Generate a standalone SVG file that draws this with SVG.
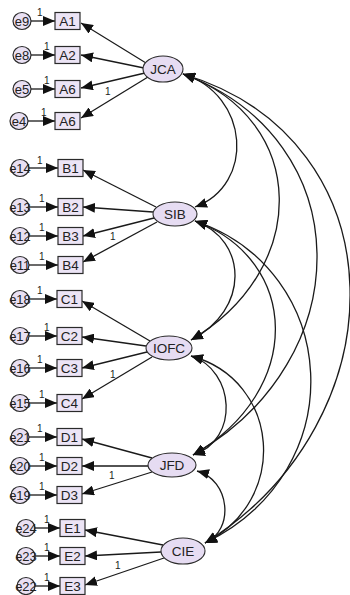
<svg xmlns="http://www.w3.org/2000/svg" width="350" height="595" viewBox="0 0 350 595">
  <style>
    .bg { fill: #ffffff; }
    .obs { fill: #ece4f5; stroke: #2a2a2a; stroke-width: 1.2; }
    .lat { fill: #e6dcf2; stroke: #2a2a2a; stroke-width: 1.1; }
    .err { fill: #e9e0f3; stroke: #2a2a2a; stroke-width: 1.2; }
    .lbl { font-family: "Liberation Sans", Arial, sans-serif; font-size: 13.5px; fill: #222; text-anchor: middle; dominant-baseline: central; }
    .elbl { font-family: "Liberation Sans", Arial, sans-serif; font-size: 13px; fill: #222; text-anchor: middle; dominant-baseline: central; }
    .one { font-family: "Liberation Sans", Arial, sans-serif; font-size: 10px; fill: #222; }
    .path { fill: none; stroke: #1a1a1a; stroke-width: 1.3; marker-end: url(#head); }
    .cov { fill: none; stroke: #1a1a1a; stroke-width: 1.3; marker-start: url(#head); marker-end: url(#head); }
  </style>
  <defs>
    <marker id="head" markerUnits="userSpaceOnUse" markerWidth="12" markerHeight="10" refX="12" refY="5" orient="auto-start-reverse">
      <path d="M0,0 L12,5 L0,10 z" fill="#111"/>
    </marker>
  </defs>
  <rect class="bg" x="0" y="0" width="350" height="595"/>

  <g id="connectors">
    <!-- error terms to indicators -->
    <line class="path" x1="31" y1="21" x2="55" y2="21"/>
    <line class="path" x1="31" y1="55" x2="55" y2="55"/>
    <line class="path" x1="31" y1="89" x2="55" y2="89"/>
    <line class="path" x1="28" y1="121" x2="55" y2="121"/>
    <line class="path" x1="29" y1="168" x2="58" y2="168"/>
    <line class="path" x1="29" y1="207" x2="58" y2="207"/>
    <line class="path" x1="29" y1="236" x2="58" y2="236"/>
    <line class="path" x1="29" y1="265" x2="58" y2="265"/>
    <line class="path" x1="29" y1="299" x2="57" y2="299"/>
    <line class="path" x1="29" y1="336" x2="57" y2="336"/>
    <line class="path" x1="29" y1="368" x2="57" y2="368"/>
    <line class="path" x1="29" y1="403" x2="57" y2="403"/>
    <line class="path" x1="29" y1="437" x2="57" y2="437"/>
    <line class="path" x1="29" y1="466" x2="57" y2="466"/>
    <line class="path" x1="29" y1="495" x2="57" y2="495"/>
    <line class="path" x1="35" y1="528" x2="60" y2="528"/>
    <line class="path" x1="35" y1="556" x2="60" y2="556"/>
    <line class="path" x1="35" y1="586" x2="60" y2="586"/>

    <!-- factor loadings -->
    <line class="path" x1="146" y1="63" x2="81" y2="23"/>
    <line class="path" x1="144" y1="68" x2="81" y2="55"/>
    <line class="path" x1="145" y1="73" x2="81" y2="88"/>
    <line class="path" x1="148" y1="77" x2="81" y2="118"/>

    <line class="path" x1="156" y1="207" x2="83" y2="170"/>
    <line class="path" x1="153" y1="212" x2="83" y2="207"/>
    <line class="path" x1="154" y1="218" x2="83" y2="236"/>
    <line class="path" x1="157" y1="222" x2="83" y2="262"/>

    <line class="path" x1="150" y1="341" x2="82" y2="301"/>
    <line class="path" x1="146" y1="346" x2="82" y2="337"/>
    <line class="path" x1="147" y1="352" x2="82" y2="368"/>
    <line class="path" x1="152" y1="357" x2="82" y2="399"/>

    <line class="path" x1="152" y1="458" x2="82" y2="439"/>
    <line class="path" x1="148" y1="466" x2="82" y2="466"/>
    <line class="path" x1="152" y1="472" x2="82" y2="494"/>

    <line class="path" x1="163" y1="545" x2="85" y2="530"/>
    <line class="path" x1="161" y1="552" x2="85" y2="556"/>
    <line class="path" x1="164" y1="558" x2="85" y2="585"/>

    <!-- factor covariances -->
    <path class="cov" d="M183,74 C250,95 255,185 195,207"/>
    <path class="cov" d="M183,74 C310,120 310,270 191,340"/>
    <path class="cov" d="M183,74 C360,140 360,360 193,455"/>
    <path class="cov" d="M183,74 C402,140 402,420 205,543"/>
    <path class="cov" d="M195,221 C248,240 250,310 191,340"/>
    <path class="cov" d="M195,221 C300,260 305,390 193,455"/>
    <path class="cov" d="M195,221 C340,270 355,470 205,543"/>
    <path class="cov" d="M191,356 C235,370 240,440 193,455"/>
    <path class="cov" d="M191,356 C280,380 290,500 205,543"/>
    <path class="cov" d="M197,471 C230,480 235,530 205,543"/>

    <!-- fixed parameter labels -->
    <text class="one" x="37" y="16">1</text>
    <text class="one" x="44" y="50">1</text>
    <text class="one" x="44" y="84">1</text>
    <text class="one" x="41" y="116">1</text>
    <text class="one" x="105" y="95">1</text>
    <text class="one" x="37" y="164">1</text>
    <text class="one" x="39" y="202">1</text>
    <text class="one" x="39" y="231">1</text>
    <text class="one" x="39" y="260">1</text>
    <text class="one" x="110" y="240">1</text>
    <text class="one" x="37" y="294">1</text>
    <text class="one" x="44" y="331">1</text>
    <text class="one" x="37" y="363">1</text>
    <text class="one" x="39" y="398">1</text>
    <text class="one" x="110" y="378">1</text>
    <text class="one" x="37" y="432">1</text>
    <text class="one" x="39" y="461">1</text>
    <text class="one" x="39" y="490">1</text>
    <text class="one" x="109" y="479">1</text>
    <text class="one" x="44" y="523">1</text>
    <text class="one" x="44" y="551">1</text>
    <text class="one" x="44" y="581">1</text>
    <text class="one" x="115" y="569">1</text>
  </g>

  <!-- latent factors -->
  <g id="JCA"><ellipse class="lat" cx="163" cy="69" rx="20" ry="13"/><text class="lbl" x="163" y="69">JCA</text></g>
  <g id="SIB"><ellipse class="lat" cx="175" cy="214" rx="22" ry="12"/><text class="lbl" x="175" y="214">SIB</text></g>
  <g id="IOFC"><ellipse class="lat" cx="169" cy="348" rx="23" ry="12"/><text class="lbl" x="169" y="348">IOFC</text></g>
  <g id="JFD"><ellipse class="lat" cx="172" cy="465" rx="24" ry="12"/><text class="lbl" x="172" y="465">JFD</text></g>
  <g id="CIE"><ellipse class="lat" cx="183" cy="551" rx="22" ry="13"/><text class="lbl" x="183" y="551">CIE</text></g>

  <!-- observed indicators -->
  <g id="A1"><rect class="obs" x="55" y="12.5" width="25" height="17"/><text class="lbl" x="67.5" y="21">A1</text></g>
  <g id="A2"><rect class="obs" x="55" y="46.5" width="25" height="17"/><text class="lbl" x="67.5" y="55">A2</text></g>
  <g id="A6a"><rect class="obs" x="55" y="80.5" width="25" height="17"/><text class="lbl" x="67.5" y="89">A6</text></g>
  <g id="A6b"><rect class="obs" x="55" y="112.5" width="25" height="17"/><text class="lbl" x="67.5" y="121">A6</text></g>

  <g id="B1"><rect class="obs" x="58" y="159.5" width="25" height="17"/><text class="lbl" x="70.5" y="168">B1</text></g>
  <g id="B2"><rect class="obs" x="58" y="198.5" width="25" height="17"/><text class="lbl" x="70.5" y="207">B2</text></g>
  <g id="B3"><rect class="obs" x="58" y="227.5" width="25" height="17"/><text class="lbl" x="70.5" y="236">B3</text></g>
  <g id="B4"><rect class="obs" x="58" y="256.5" width="25" height="17"/><text class="lbl" x="70.5" y="265">B4</text></g>

  <g id="C1"><rect class="obs" x="57" y="290.5" width="25" height="17"/><text class="lbl" x="69.5" y="299">C1</text></g>
  <g id="C2"><rect class="obs" x="57" y="327.5" width="25" height="17"/><text class="lbl" x="69.5" y="336">C2</text></g>
  <g id="C3"><rect class="obs" x="57" y="359.5" width="25" height="17"/><text class="lbl" x="69.5" y="368">C3</text></g>
  <g id="C4"><rect class="obs" x="57" y="394.5" width="25" height="17"/><text class="lbl" x="69.5" y="403">C4</text></g>

  <g id="D1"><rect class="obs" x="57" y="428.5" width="25" height="17"/><text class="lbl" x="69.5" y="437">D1</text></g>
  <g id="D2"><rect class="obs" x="57" y="457.5" width="25" height="17"/><text class="lbl" x="69.5" y="466">D2</text></g>
  <g id="D3"><rect class="obs" x="57" y="486.5" width="25" height="17"/><text class="lbl" x="69.5" y="495">D3</text></g>

  <g id="E1"><rect class="obs" x="60" y="519.5" width="25" height="17"/><text class="lbl" x="72.5" y="528">E1</text></g>
  <g id="E2"><rect class="obs" x="60" y="547.5" width="25" height="17"/><text class="lbl" x="72.5" y="556">E2</text></g>
  <g id="E3"><rect class="obs" x="60" y="577.5" width="25" height="17"/><text class="lbl" x="72.5" y="586">E3</text></g>

  <!-- error terms -->
  <g id="e9"><ellipse class="err" cx="22" cy="21" rx="9" ry="8.5"/><text class="elbl" x="22" y="21">e9</text></g>
  <g id="e8"><ellipse class="err" cx="22" cy="55" rx="9" ry="8.5"/><text class="elbl" x="22" y="55">e8</text></g>
  <g id="e5"><ellipse class="err" cx="22" cy="89" rx="9" ry="8.5"/><text class="elbl" x="22" y="89">e5</text></g>
  <g id="e4"><ellipse class="err" cx="19" cy="121" rx="9" ry="8.5"/><text class="elbl" x="19" y="121">e4</text></g>

  <g id="e14"><ellipse class="err" cx="20" cy="168" rx="9" ry="8.5"/><text class="elbl" x="20" y="168">e14</text></g>
  <g id="e13"><ellipse class="err" cx="20" cy="207" rx="9" ry="8.5"/><text class="elbl" x="20" y="207">e13</text></g>
  <g id="e12"><ellipse class="err" cx="20" cy="236" rx="9" ry="8.5"/><text class="elbl" x="20" y="236">e12</text></g>
  <g id="e11"><ellipse class="err" cx="20" cy="265" rx="9" ry="8.5"/><text class="elbl" x="20" y="265">e11</text></g>

  <g id="e18"><ellipse class="err" cx="20" cy="299" rx="9" ry="8.5"/><text class="elbl" x="20" y="299">e18</text></g>
  <g id="e17"><ellipse class="err" cx="20" cy="336" rx="9" ry="8.5"/><text class="elbl" x="20" y="336">e17</text></g>
  <g id="e16"><ellipse class="err" cx="20" cy="368" rx="9" ry="8.5"/><text class="elbl" x="20" y="368">e16</text></g>
  <g id="e15"><ellipse class="err" cx="20" cy="403" rx="9" ry="8.5"/><text class="elbl" x="20" y="403">e15</text></g>

  <g id="e21"><ellipse class="err" cx="20" cy="437" rx="9" ry="8.5"/><text class="elbl" x="20" y="437">e21</text></g>
  <g id="e20"><ellipse class="err" cx="20" cy="466" rx="9" ry="8.5"/><text class="elbl" x="20" y="466">e20</text></g>
  <g id="e19"><ellipse class="err" cx="20" cy="495" rx="9" ry="8.5"/><text class="elbl" x="20" y="495">e19</text></g>

  <g id="e24"><ellipse class="err" cx="26" cy="528" rx="9" ry="8.5"/><text class="elbl" x="26" y="528">e24</text></g>
  <g id="e23"><ellipse class="err" cx="26" cy="556" rx="9" ry="8.5"/><text class="elbl" x="26" y="556">e23</text></g>
  <g id="e22"><ellipse class="err" cx="26" cy="586" rx="9" ry="8.5"/><text class="elbl" x="26" y="586">e22</text></g>
</svg>
